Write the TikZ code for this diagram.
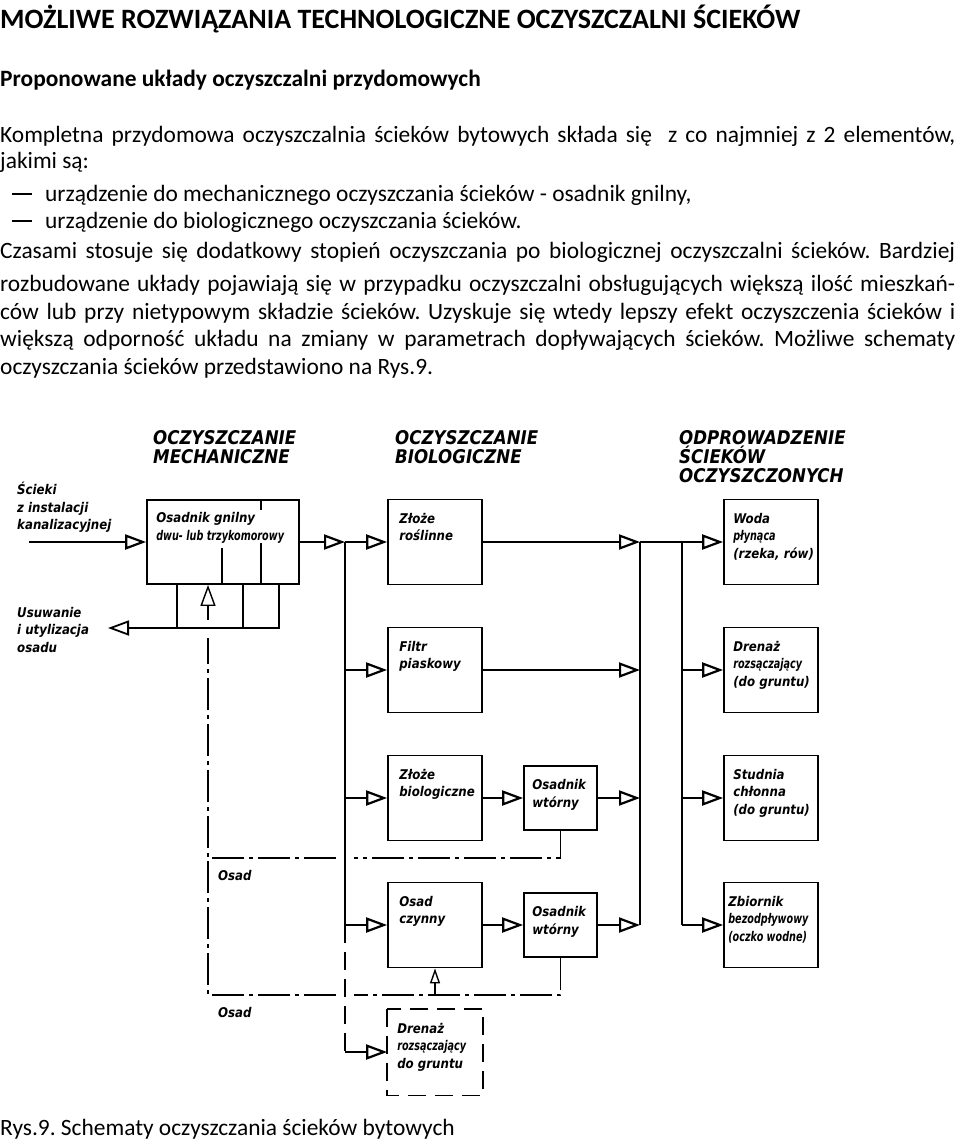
\documentclass[tikz,border=0pt]{standalone}
\usepackage{fontspec}
\setmainfont{Carlito}
\newfontfamily\diafont[FakeStretch=0.88]{DejaVu Sans}
\newfontfamily\diacond[FakeStretch=0.72]{DejaVu Sans}
\usepackage{tikz}
\usetikzlibrary{arrows.meta,calc}

\newcommand\dia{\diafont\bfseries\itshape\fontsize{13.4}{17.5}\selectfont\lineskiplimit=-10pt}
\newcommand\dcond{\diacond\bfseries\itshape}
\newcommand\dhead{\diafont\bfseries\itshape\fontsize{18.9}{19}\selectfont\lineskiplimit=-10pt}
\frenchspacing

\begin{document}
\begin{tikzpicture}[
    x=1pt, y=-1pt,
    txt/.style={anchor=base west, inner sep=0pt, font=\fontsize{23.4}{26}\selectfont},
    lbl/.style={anchor=north west, align=left, inner sep=0pt, font=\dia},
    head/.style={anchor=north west, align=left, inner sep=0pt, font=\dhead},
    box/.style={draw, line width=1.8pt, inner sep=0pt, minimum width=94pt, minimum height=85pt},
    small box/.style={box, minimum width=73pt, minimum height=64pt},
    main/.style={line width=2.2pt},
    flow/.style={main, -{Triangle[open, length=21pt, width=15pt]}},
    thin flow/.style={line width=1.4pt, -{Triangle[open, length=15pt, width=10pt]}},
    detail/.style={line width=1.3pt},
    sludge/.style={line width=1.6pt, dash pattern=on 32pt off 5pt on 4pt off 5pt},
    dashd/.style={line width=1.8pt, dash pattern=on 18pt off 9pt}
]
\useasboundingbox (0,0) rectangle (960,1142);
\fill[white] (0,0) rectangle (960,1142);

% tekst strony
\node[txt] (tytul) at (0,29) {\fontsize{28}{30}\selectfont\bfseries MOŻLIWE ROZWIĄZANIA TECHNOLOGICZNE OCZYSZCZALNI ŚCIEKÓW};
\node[txt] (podtytul) at (0,87) {\bfseries Proponowane układy oczyszczalni przydomowych};
\node[txt] (l1) at (0,143) {\makebox[955pt][s]{Kompletna przydomowa oczyszczalnia ścieków bytowych składa się \ z co najmniej z 2 elementów,}};
\node[txt] (l2) at (0,169) {jakimi są:};
\node[txt] (m1) at (12,201) {\rule[6.5pt]{20pt}{1.2pt}};
\node[txt] (l3) at (45,201) {urządzenie do mechanicznego oczyszczania ścieków - osadnik gnilny,};
\node[txt] (m2) at (12,228) {\rule[6.5pt]{20pt}{1.2pt}};
\node[txt] (l4) at (45,228) {urządzenie do biologicznego oczyszczania ścieków.};
\node[txt] (l5) at (0,258) {\makebox[955pt][s]{Czasami stosuje się dodatkowy stopień oczyszczania po biologicznej oczyszczalni ścieków. Bardziej}};
\node[txt] (l6) at (0,291) {\makebox[955pt][s]{rozbudowane układy pojawiają się w przypadku oczyszczalni obsługujących większą ilość mieszkań-}};
\node[txt] (l7) at (0,319) {\makebox[955pt][s]{ców lub przy nietypowym składzie ścieków. Uzyskuje się wtedy lepszy efekt oczyszczenia ścieków i}};
\node[txt] (l8) at (0,346) {\makebox[955pt][s]{większą odporność układu na zmiany w parametrach dopływających ścieków. Możliwe schematy}};
\node[txt] (l9) at (0,374) {oczyszczania ścieków przedstawiono na Rys.9.};
\node[txt] (podpis) at (0,1135) {Rys.9. Schematy oczyszczania ścieków bytowych};

% naglowki kolumn
\node[head] (hm) at (153,430) {\strut OCZYSZCZANIE\\MECHANICZNE};
\node[head] (hb) at (395,430) {\strut OCZYSZCZANIE\\BIOLOGICZNE};
\node[head] (ho) at (679,430) {\strut ODPROWADZENIE\\ŚCIEKÓW\\OCZYSZCZONYCH};

% bloki
\node[box, minimum width=152pt, minimum height=84pt] (sg) at (223,542) {};
\node[box] (zr) at (435,542) {};
\node[box] (wp) at (771,542) {};
\node[box] (fp) at (435,670) {};
\node[box] (dr) at (771,670) {};
\node[box] (zb) at (435,798) {};
\node[small box] (ow1) at (560.5,798) {};
\node[box] (sc) at (771,798) {};
\node[box] (oc) at (435,925) {};
\node[small box] (ow2) at (560.5,925) {};
\node[box] (zbi) at (771,925) {};
\node[box, draw=none] (dd) at (435,1052) {};
\draw[dashd] (dd.north west) rectangle (dd.south east);

% przegrody osadnika gnilnego
\draw[detail] (222,548) -- (222,584);
\draw[detail] (261,500) -- (261,584);
\draw[detail] (177,584) -- (177,628);
\draw[detail] (243,584) -- (243,628);

% opisy blokow
\node[lbl, fill=white] (tsg) at ([shift={(10pt,-11pt)}]sg.north west) {\strut Osadnik gnilny\\{\dcond dwu- lub trzykomorowy}};
\node[lbl] (tzr) at ([shift={(12pt,-12pt)}]zr.north west) {\strut Złoże\\roślinne};
\node[lbl] (twp) at ([shift={(10pt,-12pt)}]wp.north west) {\strut Woda\\{\dcond płynąca}\\(rzeka, rów)};
\node[lbl] (tfp) at ([shift={(12pt,-12pt)}]fp.north west) {\strut Filtr\\piaskowy};
\node[lbl] (tdr) at ([shift={(10pt,-12pt)}]dr.north west) {\strut Drenaż\\{\dcond rozsączający}\\(do gruntu)};
\node[lbl] (tzb) at ([shift={(12pt,-12pt)}]zb.north west) {\strut Złoże\\biologiczne};
\node[lbl] (tow1) at ([shift={(9pt,-12pt)}]ow1.north west) {\strut Osadnik\\wtórny};
\node[lbl] (tsc) at ([shift={(10pt,-12pt)}]sc.north west) {\strut Studnia\\chłonna\\(do gruntu)};
\node[lbl] (toc) at ([shift={(12pt,-12pt)}]oc.north west) {\strut Osad\\czynny};
\node[lbl] (tow2) at ([shift={(9pt,-12pt)}]ow2.north west) {\strut Osadnik\\wtórny};
\node[lbl] (tzbi) at ([shift={(5pt,-12pt)}]zbi.north west) {\strut Zbiornik\\{\dcond bezodpływowy}\\{\dcond (oczko wodne)}};
\node[lbl] (tdd) at ([shift={(10pt,-12pt)}]dd.north west) {\strut Drenaż\\{\dcond rozsączający}\\do gruntu};
\node[lbl] (tin) at (17,482) {\strut Ścieki\\z instalacji\\kanalizacyjnej};
\node[lbl] (tus) at (17,605) {\strut Usuwanie\\i utylizacja\\osadu};
\node[lbl] (tos1) at (218,868) {\strut Osad};
\node[lbl] (tos2) at (218,1005) {\strut Osad};

% punkty wezlowe
\coordinate (in) at (29,542);
\coordinate (d1) at (345,542);
\coordinate (d2) at (345,670);
\coordinate (d3) at (345,798);
\coordinate (d4) at (345,925);
\coordinate (d5) at (345,1052);
\coordinate (c1) at (640,542);
\coordinate (c2) at (640,670);
\coordinate (c3) at (640,798);
\coordinate (c4) at (640,925);
\coordinate (e1) at (682,542);
\coordinate (e2) at (682,670);
\coordinate (e3) at (682,798);
\coordinate (e4) at (682,925);
\coordinate (uk) at (279,628);
\coordinate (us) at (108,628);
\coordinate (s0) at (208,620);
\coordinate (s1) at (208,638);
\coordinate (s2) at (208,858);
\coordinate (s4) at (208,995);

% osad (linie kreska-kropka)
\draw[sludge] (ow1.south) -- (ow1.south |- s2) -- ($(d1 |- s2)+(9pt,0)$);
\draw[sludge] ($(d1 |- s2)+(-9pt,0)$) -- (s2) -- (s1);
\draw[sludge] (ow2.south) -- (ow2.south |- s4) -- ($(d1 |- s4)+(9pt,0)$);
\draw[sludge] ($(d1 |- s4)+(-9pt,0)$) -- (s4) -- (s2);
\draw[thin flow] (oc.south |- s4) -- (oc.south);
\draw[flow, line width=1.4pt] (s0) -- (s0 |- sg.south);
\draw[detail, -{Triangle[open, length=21pt, width=15pt, line width=1.8pt]}] (279,584) -- (uk) -- (us);

% przeplyw sciekow
\draw[flow] (in) -- (sg.west);
\draw[flow] (sg.east) -- (d1);
\draw[main] (d1) -- (d4);
\draw[dashd] (d4) -- (d5);
\draw[flow] (d5) -- (dd.west);
\draw[flow] (d1) -- (zr.west);
\draw[flow] (d2) -- (fp.west);
\draw[flow] (d3) -- (zb.west);
\draw[flow] (d4) -- (oc.west);
\draw[flow] (zb.east) -- (ow1.west);
\draw[flow] (oc.east) -- (ow2.west);
\draw[flow] (zr.east) -- (c1);
\draw[flow] (fp.east) -- (c2);
\draw[flow] (ow1.east) -- (c3);
\draw[flow] (ow2.east) -- (c4);
\draw[main] (c1) -- (c4);
\draw[flow] (c1) -- (wp.west);
\draw[main] (e1) -- (e4);
\draw[flow] (e2) -- (dr.west);
\draw[flow] (e3) -- (sc.west);
\draw[flow] (e4) -- (zbi.west);

\end{tikzpicture}
\end{document}
